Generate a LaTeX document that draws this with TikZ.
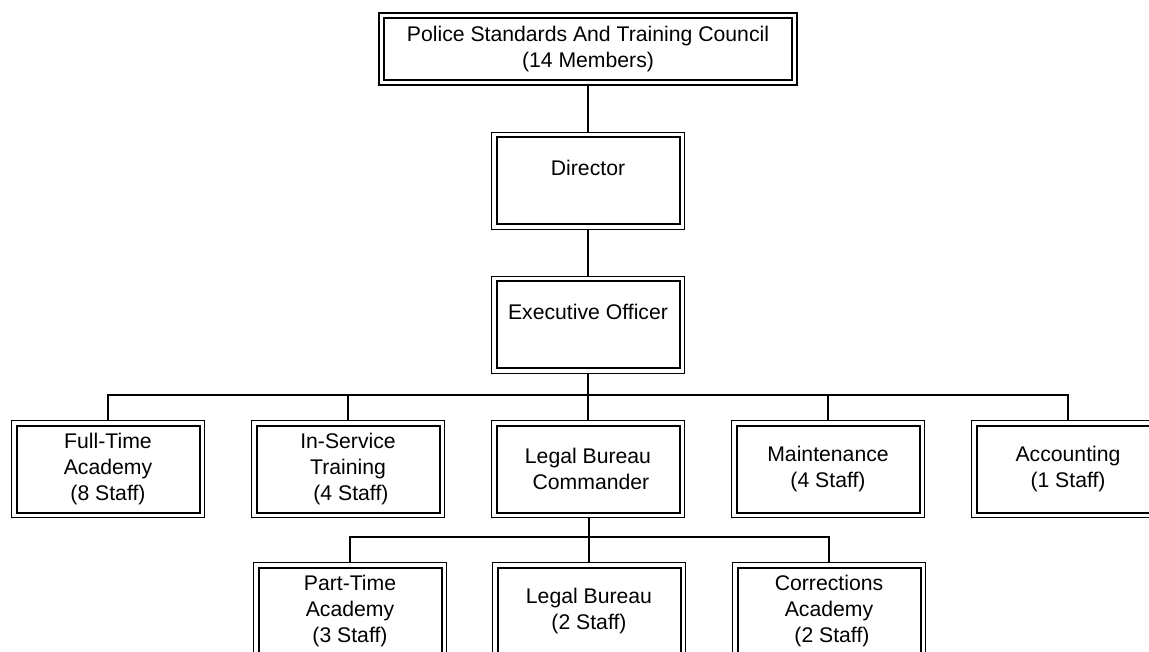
\documentclass[tikz,border=0pt]{standalone}
\usepackage{fontspec}
\setmainfont{Liberation Sans}
\usetikzlibrary{calc}
\tikzset{
    unit/.style = {draw, rectangle, line width=1.1pt,
        minimum height=97pt,
        minimum width=193pt,
        inner sep=0pt, align=center,
        font=\fontsize{21.2}{26}\selectfont,
        path picture={\draw[line width=2pt]
            ([shift={(5pt,5pt)}]path picture bounding box.south west) rectangle
            ([shift={(-5pt,-5pt)}]path picture bounding box.north east);}},
    link/.style = {draw, line width=1.3pt}
}

\begin{document}
\begin{tikzpicture}[x=1pt, y=-1pt]
                \clip (0,0) rectangle (1149,652);
                \fill[white] (0,0) rectangle (1149,652);
                % top of the chart
                \node[unit, minimum width=418pt, minimum height=72pt] (council) at (588,49) {Police Standards And Training Council\\(14 Members)};
                \node[unit] (director) at (588,181) {Director\\~};
                \node[unit] (exec) at (588,325) {Executive Officer\\~};
                % first row
                \node[unit] (fulltime) at (108,469) {Full-Time\\Academy\\(8 Staff)};
                \node[unit] (inservice) at (348,469) {In-Service\\Training\\~(4 Staff)};
                \node[unit] (legalcmd) at (588,469) {Legal Bureau\\~Commander};
                \node[unit] (maint) at (828,469) {Maintenance\\(4 Staff)};
                \node[unit] (account) at (1068,469) {Accounting\\(1 Staff)};
                % second row
                \node[unit] (parttime) at (350,611) {Part-Time\\Academy\\(3 Staff)};
                \node[unit] (legal) at (589,611) {Legal Bureau\\(2 Staff)};
                \node[unit] (correct) at (829,611) {Corrections\\Academy\\~(2 Staff)};
                \coordinate (bus1) at (588,395);
                \coordinate (bus2) at (589,537);
                \draw [link] (council) -- (director);
                \draw [link] (director) -- (exec);
                \draw [link] (exec) -- (bus1);
                \foreach \n in {fulltime,inservice,legalcmd,maint,account}
                    \draw [link] (bus1) -| (\n);
                \draw [link] (legalcmd.south -| bus2) -- (bus2);
                \foreach \n in {parttime,legal,correct}
                    \draw [link] (bus2) -| (\n);
            \end{tikzpicture}
\end{document}
